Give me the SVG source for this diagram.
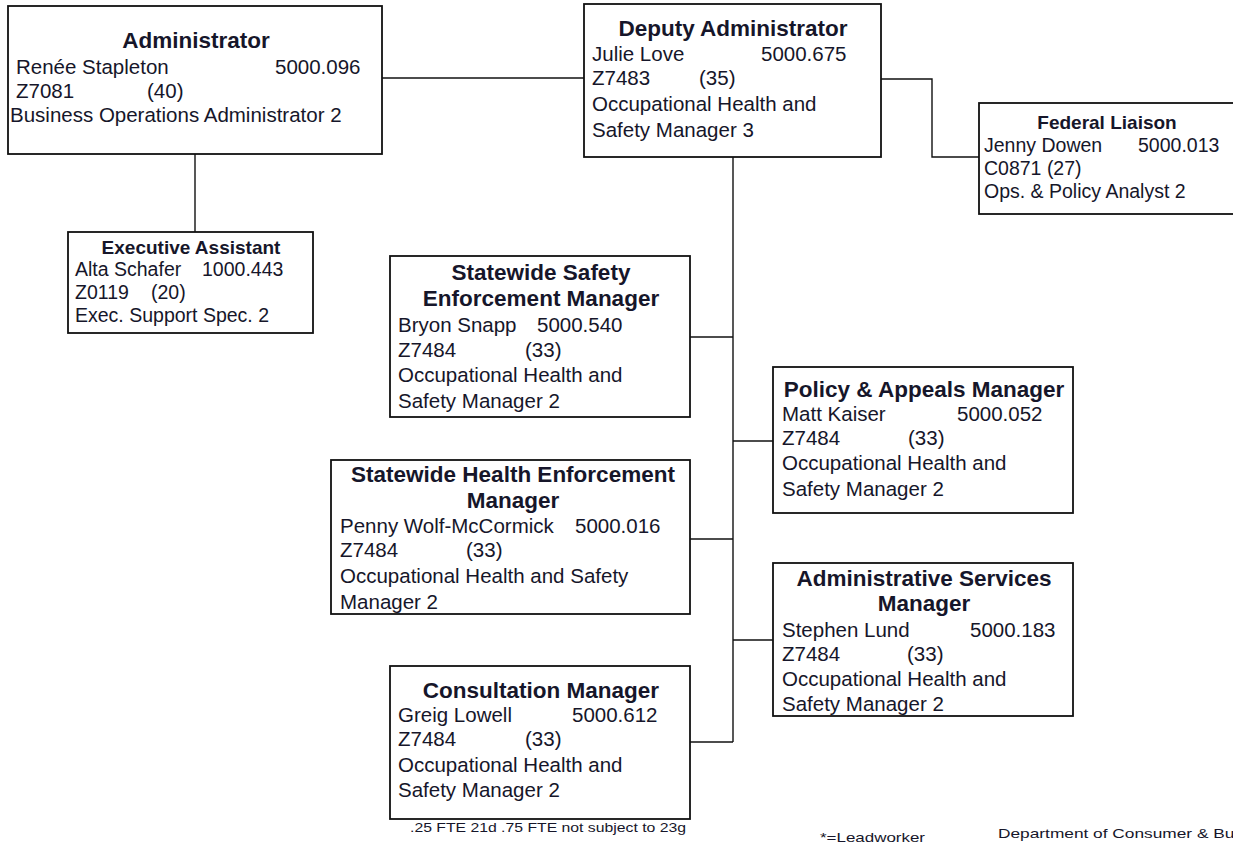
<svg xmlns="http://www.w3.org/2000/svg" width="1233" height="844" viewBox="0 0 1233 844">
  <style>
    .box { fill: #ffffff; stroke: #111111; stroke-width: 1.8; }
    .wire { fill: none; stroke: #111111; stroke-width: 1.4; }
    text { font-family: "Liberation Sans", Arial, sans-serif; fill: #16162a; }
    .t { font-weight: bold; font-size: 22.5px; text-anchor: middle; }
    .ts { font-weight: bold; font-size: 19px; text-anchor: middle; }
    .b { font-size: 20.5px; }
    .bs { font-size: 19.5px; }
    .note { font-size: 13px; }
  </style>
  <rect width="1233" height="844" fill="#ffffff"/>

  <!-- reporting lines -->
  <g id="connectors">
    <path class="wire" d="M382,78 H584"/>
    <path class="wire" d="M195,154 V232"/>
    <path class="wire" d="M881,79 H932 V157 H979"/>
    <path class="wire" d="M733,157 V742"/>
    <path class="wire" d="M690,337 H733"/>
    <path class="wire" d="M733,441 H773"/>
    <path class="wire" d="M690,539 H733"/>
    <path class="wire" d="M733,640 H773"/>
    <path class="wire" d="M690,742 H733"/>
  </g>

  <g id="administrator">
    <rect class="box" x="8" y="6" width="374" height="148"/>
    <text class="t" x="196" y="48">Administrator</text>
    <text class="b" x="16" y="74">Renée Stapleton</text>
    <text class="b" x="275" y="74">5000.096</text>
    <text class="b" x="16" y="98">Z7081</text>
    <text class="b" x="147" y="98">(40)</text>
    <text class="b" x="10" y="122">Business Operations Administrator 2</text>
  </g>

  <g id="deputy-administrator">
    <rect class="box" x="584" y="4" width="297" height="153"/>
    <text class="t" x="733" y="36">Deputy Administrator</text>
    <text class="b" x="592" y="61">Julie Love</text>
    <text class="b" x="761" y="61">5000.675</text>
    <text class="b" x="592" y="85">Z7483</text>
    <text class="b" x="699" y="85">(35)</text>
    <text class="b" x="592" y="111">Occupational Health and</text>
    <text class="b" x="592" y="137">Safety Manager 3</text>
  </g>

  <g id="federal-liaison">
    <rect class="box" x="979" y="103" width="270" height="111"/>
    <text class="ts" x="1107" y="129">Federal Liaison</text>
    <text class="bs" x="984" y="152">Jenny Dowen</text>
    <text class="bs" x="1138" y="152">5000.013</text>
    <text class="bs" x="984" y="175">C0871  (27)</text>
    <text class="bs" x="984" y="198">Ops. &amp; Policy Analyst 2</text>
  </g>

  <g id="executive-assistant">
    <rect class="box" x="68" y="232" width="245" height="101"/>
    <text class="ts" x="191" y="254">Executive Assistant</text>
    <text class="bs" x="75" y="276">Alta Schafer</text>
    <text class="bs" x="202" y="276">1000.443</text>
    <text class="bs" x="75" y="299">Z0119</text>
    <text class="bs" x="151" y="299">(20)</text>
    <text class="bs" x="75" y="322">Exec. Support Spec. 2</text>
  </g>

  <g id="safety-enforcement">
    <rect class="box" x="390" y="256" width="300" height="161"/>
    <text class="t" x="541" y="280">Statewide Safety</text>
    <text class="t" x="541" y="306">Enforcement Manager</text>
    <text class="b" x="398" y="332">Bryon Snapp</text>
    <text class="b" x="537" y="332">5000.540</text>
    <text class="b" x="398" y="357">Z7484</text>
    <text class="b" x="525" y="357">(33)</text>
    <text class="b" x="398" y="382">Occupational Health and</text>
    <text class="b" x="398" y="408">Safety Manager 2</text>
  </g>

  <g id="policy-appeals">
    <rect class="box" x="773" y="367" width="300" height="146"/>
    <text class="t" x="924" y="397">Policy &amp; Appeals Manager</text>
    <text class="b" x="782" y="421">Matt Kaiser</text>
    <text class="b" x="957" y="421">5000.052</text>
    <text class="b" x="782" y="445">Z7484</text>
    <text class="b" x="908" y="445">(33)</text>
    <text class="b" x="782" y="470">Occupational Health and</text>
    <text class="b" x="782" y="496">Safety Manager 2</text>
  </g>

  <g id="health-enforcement">
    <rect class="box" x="331" y="460" width="359" height="154"/>
    <text class="t" x="513" y="482">Statewide Health Enforcement</text>
    <text class="t" x="513" y="508">Manager</text>
    <text class="b" x="340" y="533">Penny Wolf-McCormick</text>
    <text class="b" x="575" y="533">5000.016</text>
    <text class="b" x="340" y="557">Z7484</text>
    <text class="b" x="466" y="557">(33)</text>
    <text class="b" x="340" y="583">Occupational Health and Safety</text>
    <text class="b" x="340" y="609">Manager 2</text>
  </g>

  <g id="administrative-services">
    <rect class="box" x="773" y="563" width="300" height="153"/>
    <text class="t" x="924" y="586">Administrative Services</text>
    <text class="t" x="924" y="611">Manager</text>
    <text class="b" x="782" y="637">Stephen Lund</text>
    <text class="b" x="970" y="637">5000.183</text>
    <text class="b" x="782" y="661">Z7484</text>
    <text class="b" x="907" y="661">(33)</text>
    <text class="b" x="782" y="686">Occupational Health and</text>
    <text class="b" x="782" y="711">Safety Manager 2</text>
  </g>

  <g id="consultation">
    <rect class="box" x="390" y="666" width="300" height="153"/>
    <text class="t" x="541" y="698">Consultation Manager</text>
    <text class="b" x="398" y="722">Greig Lowell</text>
    <text class="b" x="572" y="722">5000.612</text>
    <text class="b" x="398" y="746">Z7484</text>
    <text class="b" x="525" y="746">(33)</text>
    <text class="b" x="398" y="772">Occupational Health and</text>
    <text class="b" x="398" y="797">Safety Manager 2</text>
  </g>

  <g id="notes">
    <text class="note" x="410" y="832" textLength="276" lengthAdjust="spacingAndGlyphs">.25 FTE 21d  .75 FTE not subject to 23g</text>
    <text class="note" x="820" y="842" textLength="105" lengthAdjust="spacingAndGlyphs">*=Leadworker</text>
    <text class="note" x="998" y="838" textLength="245" lengthAdjust="spacingAndGlyphs">Department of Consumer &amp; Bus</text>
  </g>
</svg>
